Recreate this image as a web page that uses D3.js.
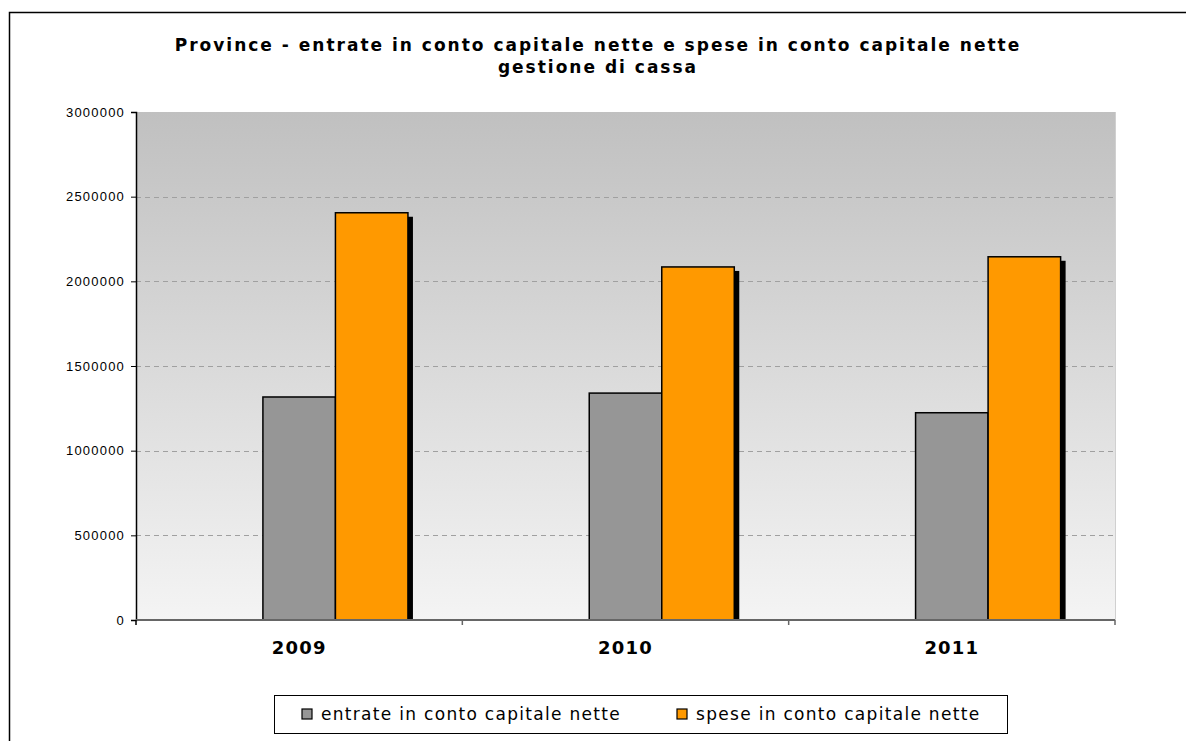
<!DOCTYPE html>
<html>
<head>
<meta charset="utf-8">
<script src="https://cdn.jsdelivr.net/npm/d3@7/dist/d3.min.js"></script>
<style>
  html, body { margin: 0; padding: 0; background: #fff; }
  svg { display: block; }
</style>
</head>
<body>
<svg id="chart" width="1186" height="741"></svg>
<script>
// Chart data
const years = ["2009", "2010", "2011"];
const entrate = [1317000, 1340000, 1224000];
const spese = [2405000, 2085000, 2145000];
const seriesNames = ["entrate in conto capitale nette", "spese in conto capitale nette"];
const seriesColors = ["#969696", "#ff9900"];
const yTicks = [0, 500000, 1000000, 1500000, 2000000, 2500000, 3000000];
const titleLines = [
  "Province - entrate in conto capitale nette e spese in conto capitale nette",
  "gestione di cassa"
];

const svg = d3.select("#chart");
const W = 1186, H = 741;
const plot = { left: 136, right: 1115, top: 112, bottom: 620 };

// Outer chart frame (extends past right and bottom edges)
svg.append("rect")
  .attr("x", 9.5).attr("y", 12.5)
  .attr("width", W).attr("height", H)
  .attr("fill", "#fff").attr("stroke", "#000").attr("stroke-width", 1.5);

// Plot background gradient
const defs = svg.append("defs");
const grad = defs.append("linearGradient")
  .attr("id", "plotBg").attr("x1", 0).attr("y1", 0).attr("x2", 0).attr("y2", 1);
grad.append("stop").attr("offset", "0%").attr("stop-color", "#c0c0c0");
grad.append("stop").attr("offset", "100%").attr("stop-color", "#f4f4f4");

svg.append("rect")
  .attr("x", plot.left).attr("y", plot.top)
  .attr("width", plot.right - plot.left).attr("height", plot.bottom - plot.top)
  .attr("fill", "url(#plotBg)");
svg.append("line")
  .attr("x1", plot.right + 0.5).attr("x2", plot.right + 0.5)
  .attr("y1", plot.top).attr("y2", plot.bottom)
  .attr("stroke", "#d0d0d0").attr("stroke-width", 1);

// Scales
const x0 = d3.scaleBand().domain(years).range([plot.left, plot.right]).paddingInner(0).paddingOuter(0);
// three slots per category: the first is an empty slot, keeping the bars right of centre
const slots = ["", ...seriesNames];
const x1 = d3.scaleBand().domain(slots).range([0, x0.bandwidth()]).paddingOuter(0.75);
const y = d3.scaleLinear().domain([0, 3000000]).range([plot.bottom, plot.top]);

// Gridlines
svg.append("g")
  .selectAll("line")
  .data(yTicks.filter(t => t > 0 && t < 3000000))
  .join("line")
  .attr("x1", plot.left).attr("x2", plot.right)
  .attr("y1", d => Math.round(y(d)) + 0.5).attr("y2", d => Math.round(y(d)) + 0.5)
  .attr("stroke", "#a0a0a0").attr("stroke-width", 1)
  .attr("stroke-dasharray", "5,4");

// Bars with drop shadows
const rows = years.map((yr, i) => ({ year: yr, values: [entrate[i], spese[i]] }));
const groups = svg.append("g").selectAll("g")
  .data(rows).join("g")
  .attr("transform", d => `translate(${x0(d.year)},0)`);

const items = d => d.values.map((v, j) => ({ v, j }));

groups.selectAll("rect.shadow")
  .data(items).join("rect")
  .attr("class", "shadow")
  .attr("x", d => x1(seriesNames[d.j]) + 5)
  .attr("y", d => y(d.v) + 4)
  .attr("width", x1.bandwidth())
  .attr("height", d => plot.bottom - y(d.v) - 4)
  .attr("fill", "#000");

groups.selectAll("rect.bar")
  .data(items).join("rect")
  .attr("class", "bar")
  .attr("x", d => x1(seriesNames[d.j]))
  .attr("y", d => y(d.v))
  .attr("width", x1.bandwidth())
  .attr("height", d => plot.bottom - y(d.v))
  .attr("fill", d => seriesColors[d.j])
  .attr("stroke", "#000").attr("stroke-width", 1.5);

// Y axis
const yAxis = d3.axisLeft(y).tickValues(yTicks).tickSize(5).tickPadding(6).tickFormat(d3.format("d"));
const yg = svg.append("g").attr("transform", `translate(${plot.left},0)`).call(yAxis);
yg.select(".domain").attr("stroke", "#000").attr("stroke-width", 1.5);
yg.selectAll(".tick line").attr("stroke", "#000");
yg.selectAll("text")
  .attr("font-family", "'Liberation Sans', Arial, sans-serif")
  .attr("font-size", 13).attr("letter-spacing", 1.2).attr("fill", "#000");

// X axis: ticks at category boundaries
const xg = svg.append("g");
xg.append("line")
  .attr("x1", plot.left).attr("x2", plot.right)
  .attr("y1", plot.bottom).attr("y2", plot.bottom)
  .attr("stroke", "#666").attr("stroke-width", 2);
xg.selectAll("line.tk")
  .data(years.concat(["end"])).join("line")
  .attr("class", "tk")
  .attr("x1", (d, i) => i < years.length ? x0(d) : plot.right)
  .attr("x2", (d, i) => i < years.length ? x0(d) : plot.right)
  .attr("y1", plot.bottom).attr("y2", plot.bottom + 5)
  .attr("stroke", (d, i) => i === 0 ? "#000" : "#666").attr("stroke-width", 1.5);
xg.selectAll("text")
  .data(years).join("text")
  .attr("x", d => x0(d) + x0.bandwidth() / 2)
  .attr("y", plot.bottom + 34)
  .attr("text-anchor", "middle")
  .attr("font-family", "'DejaVu Sans', Verdana, sans-serif")
  .attr("font-weight", "bold").attr("font-size", 18)
  .attr("letter-spacing", 1.2)
  .text(d => d);

// Title
svg.append("g").selectAll("text")
  .data(titleLines).join("text")
  .attr("x", 598)
  .attr("y", (d, i) => 51 + i * 22)
  .attr("text-anchor", "middle")
  .attr("font-family", "'DejaVu Sans', Verdana, sans-serif")
  .attr("font-weight", "bold").attr("font-size", 17)
  .attr("letter-spacing", 2)
  .text(d => d);

// Legend
const legend = svg.append("g");
legend.append("rect")
  .attr("x", 274.5).attr("y", 695.5).attr("width", 733).attr("height", 38)
  .attr("fill", "#fff").attr("stroke", "#000").attr("stroke-width", 1);
const legendX = [302, 677];
const li = legend.selectAll("g.item").data(seriesNames).join("g")
  .attr("class", "item")
  .attr("transform", (d, i) => `translate(${legendX[i]},709)`);
li.append("rect")
  .attr("width", 10).attr("height", 10)
  .attr("fill", (d, i) => seriesColors[i])
  .attr("stroke", "#000").attr("stroke-width", 1.2);
li.append("text")
  .attr("x", 19).attr("y", 11)
  .attr("font-family", "'DejaVu Sans', Verdana, sans-serif")
  .attr("font-size", 17)
  .attr("letter-spacing", 1.3)
  .attr("fill", "#000")
  .text(d => d);
</script>
</body>
</html>
